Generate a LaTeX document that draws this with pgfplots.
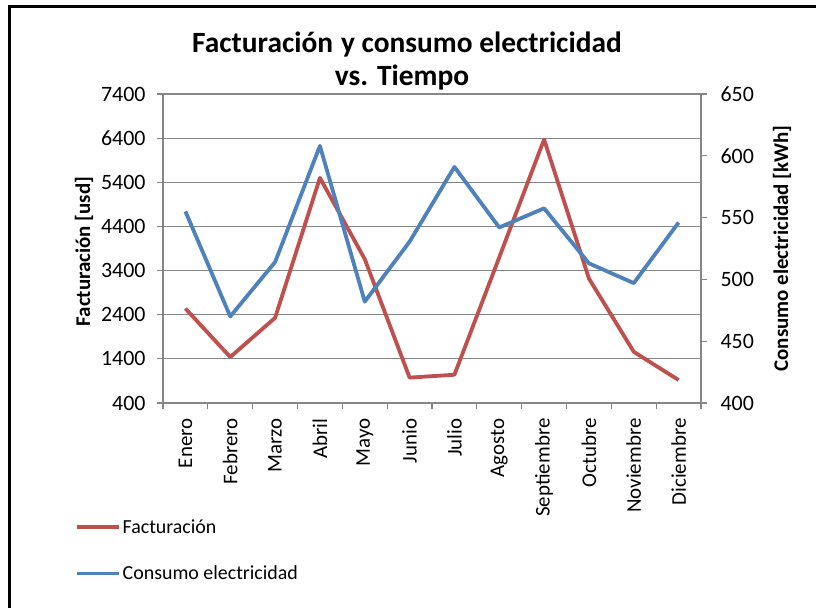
\documentclass[border=0pt]{standalone}
\usepackage{fontspec}
\setmainfont{Carlito}
\usepackage{pgfplots}
\pgfplotsset{compat=1.18}
\definecolor{fact}{HTML}{C0504D}
\definecolor{cons}{HTML}{4F81BD}
\definecolor{gridg}{HTML}{868686}

\newcommand{\lblfont}{\fontsize{20}{24}\selectfont}
\newcommand{\numfont}{\fontsize{22}{26}\selectfont}
\newcommand{\mesfont}{\fontsize{21}{25}\selectfont}
\newcommand{\titfont}{\fontsize{21}{25}\selectfont\bfseries}

\pgfplotsset{
  base/.style={
    at={(163bp,205bp)}, anchor=south west,
    scale only axis, width=538bp, height=309bp,
    xmin=-0.5, xmax=11.5,
    /pgf/number format/assume math mode=true,
    /pgf/number format/1000 sep={},
    tick align=outside,
    major tick length=6bp,
    tick style={gridg, line width=1.2bp},
    axis line style={gridg, line width=1.2bp},
    tick label style={font=\numfont},
    label style={font=\titfont},
  },
  serie/.style={line width=3.8bp, line join=round},
}

\begin{document}
\begin{tikzpicture}[x=1bp,y=1bp]
\path[use as bounding box] (0,0) rectangle (816,608);
\fill[white] (0,0) rectangle (816,608);
\draw[black, line width=3bp] (9.5,0) -- (9.5,601.5) -- (816,601.5);

\node[font=\bfseries\fontsize{29.5}{34}\selectfont, anchor=base] at (407,555)
  {Facturación\hspace{8bp}y consumo electricidad};
\node[font=\bfseries\fontsize{29.5}{34}\selectfont, anchor=base] at (402,522)
  {vs. Tiempo};

% Facturación (left axis)
\begin{axis}[base,
  ymin=400, ymax=7400,
  ytick={400,1400,...,7400},
  axis x line*=bottom, axis y line*=left,
  ymajorgrids, grid style={gridg, line width=1.2bp},
  xtick={-0.5,0.5,...,11.5},
  x tick label as interval,
  xticklabels={Enero,Febrero,Marzo,Abril,Mayo,Junio,Julio,Agosto,Septiembre,Octubre,Noviembre,Diciembre},
  xticklabel style={font=\mesfont, rotate=90, anchor=east, xshift=-6bp},
  yticklabel style={xshift=-8bp},
  ylabel={Facturación [usd]},
  ylabel style={at={(axis description cs:-0.147,0.49)}, anchor=center},
]
\addplot[serie, fact] coordinates {
  (0,2540) (1,1440) (2,2330) (3,5500) (4,3660) (5,975)
  (6,1040) (7,3700) (8,6370) (9,3220) (10,1560) (11,920)
};
\end{axis}

% Consumo electricidad (right axis)
\begin{axis}[base,
  ymin=400, ymax=650,
  ytick={400,450,...,650},
  axis y line*=right, axis x line=none,
  yticklabel style={xshift=10bp},
  ylabel={Consumo electricidad [kWh]},
  ylabel style={at={(axis description cs:1.1506,0.5)}, anchor=center},
  legend image code/.code={\draw[#1, line width=3.5bp] (0bp,0bp) -- (42bp,0bp);},
  legend cell align=left,
  legend style={at={(axis description cs:-0.1636,-0.37)}, anchor=north west,
    draw=none, fill=none, inner sep=0pt, row sep=27bp,
    nodes={inner sep=2bp, font=\lblfont}},
]
\addlegendimage{serie, fact}
\addlegendentry{Facturación}
\addplot[serie, cons] coordinates {
  (0,555) (1,470) (2,514) (3,608) (4,482) (5,530.5)
  (6,591) (7,542) (8,557.5) (9,513) (10,497) (11,546)
};
\addlegendentry{Consumo electricidad}
\end{axis}
\end{tikzpicture}
\end{document}
